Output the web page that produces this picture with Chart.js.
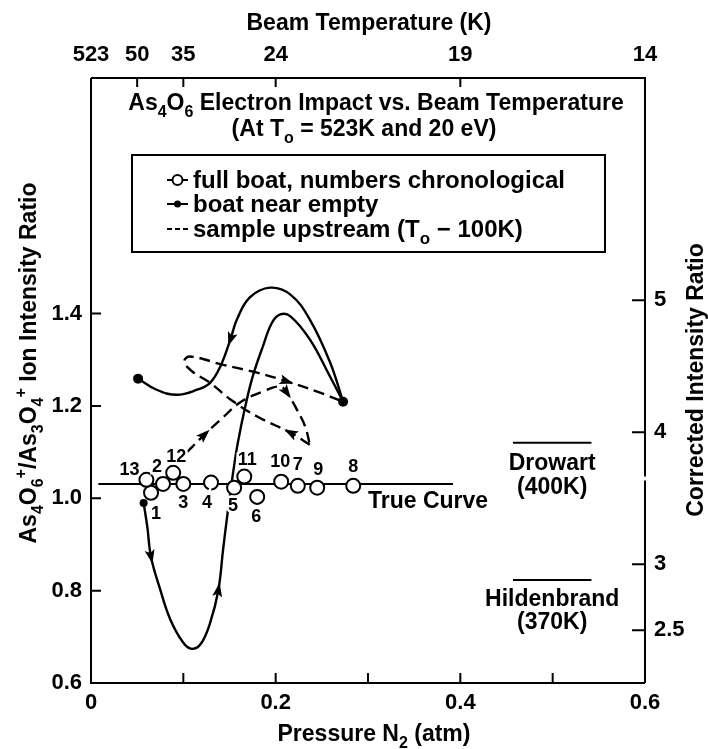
<!DOCTYPE html>
<html>
<head>
<meta charset="utf-8">
<script src="https://cdn.jsdelivr.net/npm/chart.js@4.4.1/dist/chart.umd.min.js"></script>
<style>
  html, body { margin: 0; padding: 0; background: #fff; }
  #wrap { width: 708px; height: 749px; }
</style>
</head>
<body>
<div id="wrap"><canvas id="chart" width="708" height="749"></canvas></div>
<script>
const FONT = '"Liberation Sans", Arial, Helvetica, sans-serif';

// full boat runs, numbered in chronological order
const runNumbers  = [1, 2, 3, 4, 5, 6, 7, 8, 9, 10, 11, 12, 13];
const runPressure = [0.065, 0.078, 0.100, 0.130, 0.155, 0.180, 0.224, 0.284, 0.245, 0.206, 0.166, 0.089, 0.060];
const runRatio    = [1.012, 1.031, 1.031, 1.034, 1.023, 1.003, 1.027, 1.027, 1.023, 1.036, 1.047, 1.055, 1.040];
// where each run number sits relative to its circle (px)
const runLabelOffsets = [[5, 21], [-6, -17], [0, 19], [-4, 20], [-1, 18], [-1, 20], [0, -21],
                         [0, -19], [1, -18], [-1, -20], [3, -17], [3, -16], [-17, -10]];

const trueCurvePressure = [0.008, 0.392];
const trueCurveRatio = 1.031;

// boat near empty: dip below the true curve, then the inner arc up to the right dot
const emptyInnerPressure = [0.057, 0.061, 0.065, 0.075, 0.086, 0.100, 0.109, 0.119, 0.129, 0.138, 0.143, 0.148,
                            0.154, 0.159, 0.167, 0.175, 0.186, 0.196, 0.205, 0.216, 0.237, 0.259, 0.273];
const emptyInnerRatio    = [0.990, 0.938, 0.873, 0.802, 0.737, 0.687, 0.674, 0.685, 0.730, 0.802, 0.888, 0.969,
                            1.057, 1.120, 1.198, 1.263, 1.328, 1.380, 1.398, 1.394, 1.344, 1.263, 1.209];
// ... and back over the outer arc to the left dot
const emptyOuterPressure = [0.273, 0.259, 0.237, 0.216, 0.194, 0.172, 0.158, 0.151, 0.140, 0.129, 0.115, 0.093, 0.071, 0.051];
const emptyOuterRatio    = [1.209, 1.294, 1.387, 1.441, 1.456, 1.435, 1.387, 1.344, 1.285, 1.250, 1.235, 1.224, 1.235, 1.259];

// sample upstream (To - 100K)
const upOutPressure  = [0.104, 0.123, 0.143, 0.161, 0.186, 0.205, 0.212, 0.223, 0.232, 0.237];
const upOutRatio     = [1.100, 1.138, 1.175, 1.207, 1.231, 1.242, 1.229, 1.192, 1.155, 1.116];
const upBackPressure = [0.237, 0.216, 0.180, 0.151, 0.129, 0.110, 0.101, 0.107, 0.143, 0.180, 0.212, 0.245, 0.273];
const upBackRatio    = [1.116, 1.142, 1.177, 1.214, 1.250, 1.274, 1.296, 1.307, 1.289, 1.272, 1.253, 1.231, 1.209];

// arrowheads: index of the point where the arrow sits (points toward the next one)
const emptyInnerArrows = [2, 9];
const emptyOuterArrows = [7];
const upOutArrows = [1, 6];
const upBackArrows = [1, 10];

// literature values
const literaturePressure = [0.457, 0.542];
const drowartRatio = 1.120;
const hildenbrandRatio = 0.823;

// top axis: beam temperature at given N2 pressure
const beamTempPressure = [0, 0.05, 0.1, 0.2, 0.4, 0.6];
const beamTempLabels = ['523', '50', '35', '24', '19', '14'];

// right axis
const correctionFactor = 3.5;
const correctedTicks = [2.5, 3, 4, 5];
const correctedBreak = 3.65;

const Y_MIN = 0.6, Y_MAX = 1.91;

const pts = (xs, ys) => xs.map((x, i) => ({ x: x, y: Array.isArray(ys) ? ys[i] : ys }));

function richText(ctx, parts, x, y, size, align) {
  let w = 0;
  const items = parts.map(p => {
    const s = (p.sub || p.sup) ? Math.round(size * 0.7) : size;
    ctx.font = `bold ${s}px ${FONT}`;
    const m = ctx.measureText(p.t).width;
    w += m;
    return { p, s, m };
  });
  let cx = align === 'center' ? x - w / 2 : (align === 'right' ? x - w : x);
  ctx.textAlign = 'left';
  ctx.textBaseline = 'alphabetic';
  items.forEach(it => {
    ctx.font = `bold ${it.s}px ${FONT}`;
    const dy = it.p.sub ? size * 0.3 : (it.p.sup ? -size * 0.45 : 0);
    ctx.fillText(it.p.t, cx, y + dy);
    cx += it.m;
  });
}

function drawArrow(ctx, sx, sy, path, i) {
  const a = path[Math.max(i - 1, 0)], b = path[Math.min(i + 1, path.length - 1)];
  const x0 = sx.getPixelForValue(path[i].x), y0 = sy.getPixelForValue(path[i].y);
  const ang = Math.atan2(sy.getPixelForValue(b.y) - sy.getPixelForValue(a.y),
                         sx.getPixelForValue(b.x) - sx.getPixelForValue(a.x));
  ctx.save();
  ctx.translate(x0, y0);
  ctx.rotate(ang);
  ctx.beginPath();
  ctx.moveTo(7, 0);
  ctx.lineTo(-7, -5);
  ctx.lineTo(-4, 0);
  ctx.lineTo(-7, 5);
  ctx.closePath();
  ctx.fillStyle = '#000';
  ctx.fill();
  ctx.restore();
}

const inner = pts(emptyInnerPressure, emptyInnerRatio);
const outer = pts(emptyOuterPressure, emptyOuterRatio);
const upOut = pts(upOutPressure, upOutRatio);
const upBack = pts(upBackPressure, upBackRatio);
const runs = pts(runPressure, runRatio);

const decor = {
  id: 'decor',
  afterDatasetsDraw(chart) {
    const ctx = chart.ctx;
    const sx = chart.scales.x, sy = chart.scales.y;

    // arrowheads along the trajectories
    emptyInnerArrows.forEach(i => drawArrow(ctx, sx, sy, inner, i));
    emptyOuterArrows.forEach(i => drawArrow(ctx, sx, sy, outer, i));
    upOutArrows.forEach(i => drawArrow(ctx, sx, sy, upOut, i));
    upBackArrows.forEach(i => drawArrow(ctx, sx, sy, upBack, i));

    // run numbers
    ctx.save();
    ctx.font = `bold 18px ${FONT}`;
    ctx.textAlign = 'center';
    ctx.textBaseline = 'middle';
    runs.forEach((p, i) => {
      const px = sx.getPixelForValue(p.x) + runLabelOffsets[i][0];
      const py = sy.getPixelForValue(p.y) + runLabelOffsets[i][1];
      ctx.lineWidth = 5;
      ctx.strokeStyle = '#fff';
      ctx.strokeText(String(runNumbers[i]), px, py);
      ctx.fillStyle = '#000';
      ctx.fillText(String(runNumbers[i]), px, py);
    });

    // labels on the plot
    const ty = sy.getPixelForValue(trueCurveRatio);
    richText(ctx, [{ t: 'True Curve' }], sx.getPixelForValue(0.3), ty + 24, 23, 'left');
    const mid = sx.getPixelForValue((literaturePressure[0] + literaturePressure[1]) / 2);
    const dy = sy.getPixelForValue(drowartRatio);
    richText(ctx, [{ t: 'Drowart' }], mid, dy + 27, 23, 'center');
    richText(ctx, [{ t: '(400K)' }], mid, dy + 51, 23, 'center');
    const hy = sy.getPixelForValue(hildenbrandRatio);
    richText(ctx, [{ t: 'Hildenbrand' }], mid, hy + 26, 23, 'center');
    richText(ctx, [{ t: '(370K)' }], mid, hy + 49, 23, 'center');
    ctx.restore();
  },
  afterDraw(chart) {
    const ctx = chart.ctx;
    const a = chart.chartArea;
    const { x, xTop, y, yRight } = chart.scales;
    ctx.save();
    ctx.strokeStyle = '#000';
    ctx.fillStyle = '#000';
    ctx.lineWidth = 2;

    // frame (the right axis is broken between 4 and 3)
    ctx.beginPath();
    ctx.moveTo(a.left, a.top); ctx.lineTo(a.right, a.top);
    ctx.moveTo(a.left, a.top); ctx.lineTo(a.left, a.bottom); ctx.lineTo(a.right, a.bottom);
    const gap = yRight.getPixelForValue(correctedBreak);
    ctx.moveTo(a.right, a.bottom); ctx.lineTo(a.right, gap + 2);
    ctx.moveTo(a.right, gap - 2); ctx.lineTo(a.right, a.top - 1);
    ctx.stroke();

    // inward tick marks
    ctx.beginPath();
    x.ticks.forEach(t => {
      if (t.value <= 0.001 || t.value >= 0.599) return;
      const px = x.getPixelForValue(t.value);
      ctx.moveTo(px, a.bottom); ctx.lineTo(px, a.bottom - 10);
    });
    xTop.ticks.forEach(t => {
      if (t.value <= 0.001 || t.value >= 0.599) return;
      const px = xTop.getPixelForValue(t.value);
      ctx.moveTo(px, a.top); ctx.lineTo(px, a.top + 9);
    });
    y.ticks.forEach(t => {
      if (t.value <= Y_MIN + 0.001) return;
      const py = y.getPixelForValue(t.value);
      ctx.moveTo(a.left, py); ctx.lineTo(a.left + 10, py);
    });
    yRight.ticks.forEach(t => {
      const py = yRight.getPixelForValue(t.value);
      ctx.moveTo(a.right, py); ctx.lineTo(a.right - 13, py);
    });
    ctx.stroke();

    // axis titles
    richText(ctx, [{ t: 'Beam Temperature (K)' }], 369, 30, 23, 'center');
    richText(ctx, [{ t: 'Pressure N' }, { t: '2', sub: true }, { t: ' (atm)' }], 374, 741, 23, 'center');
    ctx.save();
    ctx.translate(36, 363);
    ctx.rotate(-Math.PI / 2);
    richText(ctx, [{ t: 'As' }, { t: '4', sub: true }, { t: 'O' }, { t: '6', sub: true }, { t: '+', sup: true },
                   { t: '/As' }, { t: '3', sub: true }, { t: 'O' }, { t: '4', sub: true }, { t: '+', sup: true },
                   { t: ' Ion Intensity Ratio' }], 0, 0, 23, 'center');
    ctx.restore();
    ctx.save();
    ctx.translate(703, 380);
    ctx.rotate(-Math.PI / 2);
    richText(ctx, [{ t: 'Corrected Intensity Ratio' }], 0, 0, 23, 'center');
    ctx.restore();

    // chart title
    richText(ctx, [{ t: 'As' }, { t: '4', sub: true }, { t: 'O' }, { t: '6', sub: true },
                   { t: ' Electron Impact vs. Beam Temperature' }], 376, 110, 23, 'center');
    richText(ctx, [{ t: '(At T' }, { t: 'o', sub: true }, { t: ' = 523K and 20 eV)' }], 364, 136, 23, 'center');

    // legend box
    ctx.lineWidth = 2;
    ctx.strokeRect(132, 155, 473, 97);
    const lx0 = 167, lx1 = 188, lc = 177.5, tx = 193;
    const rows = [180, 204, 229];
    ctx.beginPath();
    ctx.moveTo(lx0, rows[0]); ctx.lineTo(lx1, rows[0]);
    ctx.moveTo(lx0, rows[1]); ctx.lineTo(lx1, rows[1]);
    ctx.stroke();
    ctx.beginPath();
    ctx.arc(lc, rows[0], 5, 0, Math.PI * 2);
    ctx.fillStyle = '#fff'; ctx.fill(); ctx.stroke();
    ctx.fillStyle = '#000';
    ctx.beginPath();
    ctx.arc(lc, rows[1], 3.5, 0, Math.PI * 2);
    ctx.fill();
    ctx.beginPath();
    ctx.setLineDash([5, 3]);
    ctx.moveTo(lx0, rows[2]); ctx.lineTo(lx1, rows[2]);
    ctx.stroke();
    ctx.setLineDash([]);
    richText(ctx, [{ t: 'full boat, numbers chronological' }], tx, rows[0] + 8, 24, 'left');
    richText(ctx, [{ t: 'boat near empty' }], tx, rows[1] + 8, 24, 'left');
    richText(ctx, [{ t: 'sample upstream (T' }, { t: 'o', sub: true }, { t: ' \u2212 100K)' }], tx, rows[2] + 8, 24, 'left');
    ctx.restore();
  }
};

const tickFont = { family: FONT, size: 22, weight: 'bold' };
const lineBase = { showLine: true, fill: false, borderColor: '#000', backgroundColor: '#000', borderWidth: 2.4,
                   pointBorderWidth: 0, pointHoverRadius: 0 };

new Chart(document.getElementById('chart'), {
  type: 'scatter',
  data: {
    datasets: [
      { ...lineBase, data: pts(trueCurvePressure, trueCurveRatio), pointRadius: 0, borderWidth: 2, order: 5 },
      { ...lineBase, data: pts(literaturePressure, drowartRatio), pointRadius: 0, borderWidth: 2, order: 5 },
      { ...lineBase, data: pts(literaturePressure, hildenbrandRatio), pointRadius: 0, borderWidth: 2, order: 5 },
      { ...lineBase, data: upOut, tension: 0.4, borderDash: [11, 6], pointRadius: 0, order: 4 },
      { ...lineBase, data: upBack, tension: 0.4, borderDash: [11, 6], pointRadius: 0, order: 4 },
      { ...lineBase, data: inner, tension: 0.4,
        pointRadius: inner.map((p, i) => i === 0 ? 4 : (i === inner.length - 1 ? 5 : 0)), order: 3 },
      { ...lineBase, data: outer, tension: 0.4,
        pointRadius: outer.map((p, i) => i === outer.length - 1 ? 5 : 0), order: 3 },
      { data: runs, showLine: false, pointStyle: 'circle', pointRadius: 7, pointBorderWidth: 2,
        pointBackgroundColor: '#fff', pointBorderColor: '#000', pointHoverRadius: 7, order: 0 }
    ]
  },
  options: {
    responsive: false,
    animation: false,
    events: [],
    layout: { padding: 0 },
    plugins: { legend: { display: false }, tooltip: { enabled: false }, title: { display: false } },
    scales: {
      x: {
        type: 'linear', position: 'bottom', min: 0, max: 0.6,
        grid: { display: false, drawTicks: false }, border: { display: false },
        ticks: {
          stepSize: 0.1, autoSkip: false, maxRotation: 0, padding: 7, color: '#000', font: tickFont,
          callback: v => (Math.round(v * 10) % 2 === 0) ? (v === 0 ? '0' : v.toFixed(1)) : ''
        },
        afterFit: s => { s.height = 66; }
      },
      xTop: {
        type: 'linear', position: 'top', min: 0, max: 0.6,
        grid: { display: false, drawTicks: false }, border: { display: false },
        afterBuildTicks: s => { s.ticks = beamTempPressure.map(v => ({ value: v })); },
        ticks: { autoSkip: false, maxRotation: 0, padding: 10, color: '#000', font: tickFont,
                 callback: (v, i) => beamTempLabels[i] },
        afterFit: s => { s.height = 78; }
      },
      y: {
        type: 'linear', position: 'left', min: Y_MIN, max: Y_MAX,
        grid: { display: false, drawTicks: false }, border: { display: false },
        afterBuildTicks: s => { s.ticks = s.ticks.filter(t => t.value <= 1.401); },
        ticks: { stepSize: 0.2, padding: 9, color: '#000', font: tickFont, callback: v => v.toFixed(1) },
        afterFit: s => { s.width = 91; }
      },
      yRight: {
        type: 'linear', position: 'right', min: Y_MIN * correctionFactor, max: Y_MAX * correctionFactor,
        grid: { display: false, drawTicks: false }, border: { display: false },
        afterBuildTicks: s => { s.ticks = correctedTicks.map(v => ({ value: v })); },
        ticks: { padding: 9, color: '#000', font: tickFont, callback: v => String(v) },
        afterFit: s => { s.width = 63; }
      }
    }
  },
  plugins: [decor]
});
</script>
</body>
</html>
